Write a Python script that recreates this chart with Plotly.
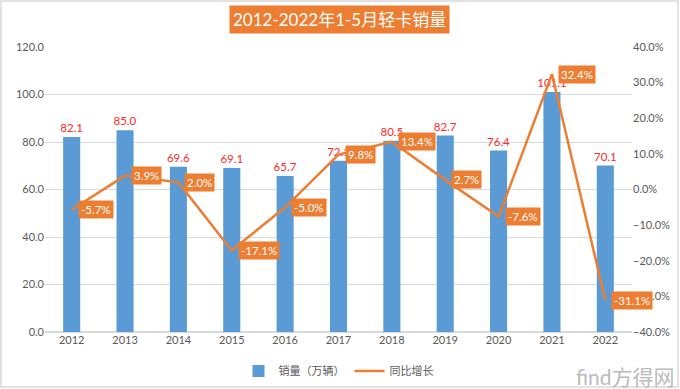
import plotly.graph_objects as go

years = ["2012", "2013", "2014", "2015", "2016", "2017", "2018", "2019", "2020", "2021", "2022"]
sales = [82.1, 85.0, 69.6, 69.1, 65.7, 72.1, 80.5, 82.7, 76.4, 101.1, 70.1]
growth = [-5.7, 3.9, 2.0, -17.1, -5.0, 9.8, 13.4, 2.7, -7.6, 32.4, -31.1]

title_text = "2012-2022年1-5月轻卡销量"
bar_name = "销量（万辆）"
line_name = "同比增长"

BLUE = "#5B9BD5"
ORANGE = "#ED7D31"
GRAY = "#595959"
FONT = "Lato, 'Noto Sans CJK SC', sans-serif"

W, H = 680, 389
ML, MR, MT, MB = 45, 48, 47, 57
PW, PH = W - ML - MR, H - MT - MB

def px_x(p):
    return (p - ML) / PW

def px_y(p):
    return (H - MB - p) / PH

fig = go.Figure()
fig.add_trace(go.Bar(
    x=years, y=sales, name=bar_name,
    marker=dict(color=BLUE, line=dict(width=0)),
    text=[f"{v:.1f}" for v in sales], textposition="outside",
    constraintext="none",
    textfont=dict(color="#FF2A2A", size=11.5, family=FONT),
    cliponaxis=False,
))
fig.add_trace(go.Scatter(
    x=years, y=growth, name=line_name, yaxis="y2",
    mode="lines", line=dict(color=ORANGE, width=2.5),
))

annotations = []
for i, g in enumerate(growth):
    annotations.append(dict(
        x=i, y=g, xref="x", yref="y2", text=f"{g:.1f}%",
        showarrow=False, xanchor="left", yanchor="middle", xshift=6,
        bgcolor=ORANGE, borderpad=2,
        font=dict(color="white", size=11.5, family=FONT),
    ))

annotations.append(dict(
    x=px_x(340), y=px_y(20), xref="paper", yref="paper", text=title_text,
    showarrow=False, xanchor="center", yanchor="middle",
    bgcolor=ORANGE, borderpad=3,
    font=dict(color="white", size=17, family=FONT),
))
annotations.append(dict(
    x=px_x(677), y=px_y(376), xref="paper", yref="paper",
    text="find方得网", showarrow=False, xanchor="right", yanchor="middle",
    font=dict(color="#BBBBBB", size=21, family=FONT),
))

fig.update_layout(
    width=W, height=H,
    margin=dict(l=ML, r=MR, t=MT, b=MB, pad=0, autoexpand=False),
    paper_bgcolor="white", plot_bgcolor="white",
    font=dict(family=FONT, color=GRAY, size=11),
    bargap=0.68,
    showlegend=True,
    legend=dict(orientation="h", x=0.5, xanchor="center", y=px_y(371), yanchor="middle",
                font=dict(size=11, color=GRAY), itemwidth=30, traceorder="normal"),
    xaxis=dict(type="category", range=[-0.5, len(years) - 0.5], autorange=False,
               automargin=False, showgrid=False, showline=False, ticks="",
               tickfont=dict(size=11, color=GRAY)),
    yaxis=dict(range=[0, 120], dtick=20, tickformat=".1f", showgrid=True, automargin=False,
               gridcolor="#D9D9D9", gridwidth=1, zeroline=True, zerolinecolor="#D9D9D9",
               showline=False, tickfont=dict(size=11, color=GRAY)),
    yaxis2=dict(range=[-40, 40], dtick=10, tickformat=".1f", ticksuffix="%", automargin=False,
                overlaying="y", side="right", showgrid=False, zeroline=False,
                showline=False, tickfont=dict(size=11, color=GRAY)),
    annotations=annotations,
    shapes=[dict(type="rect", xref="paper", yref="paper",
                 x0=px_x(1), x1=px_x(678), y0=px_y(387), y1=px_y(1),
                 line=dict(color="#D9D9D9", width=1.5), fillcolor="rgba(0,0,0,0)",
                 layer="below")],
)

fig.write_html("out.html", config={"displayModeBar": False},
               post_script="document.body.style.margin='0';document.body.style.overflow='hidden';")
